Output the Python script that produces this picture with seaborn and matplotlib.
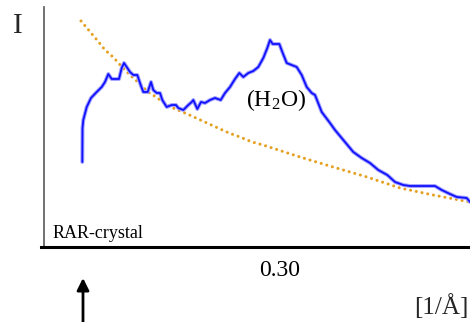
import matplotlib
matplotlib.use('Agg')
import matplotlib.pyplot as plt
import seaborn as sns

# Scattering profile (q in 1/A, intensity in arbitrary units)
blue_q = [0.1023, 0.1025, 0.1033, 0.1067, 0.1110, 0.1157, 0.1217, 0.1250, 0.1283, 0.1317,
          0.1390, 0.1417, 0.1440, 0.1467, 0.1500, 0.1533, 0.1573, 0.1607, 0.1633, 0.1677,
          0.1710, 0.1733, 0.1767, 0.1800, 0.1823, 0.1867, 0.1917, 0.1960, 0.1983, 0.2033,
          0.2083, 0.2117, 0.2133, 0.2173, 0.2210, 0.2250, 0.2300, 0.2350, 0.2407, 0.2450,
          0.2500, 0.2550, 0.2593, 0.2633, 0.2683, 0.2733, 0.2783, 0.2833, 0.2873, 0.2900,
          0.2927, 0.2993, 0.3027, 0.3067, 0.3117, 0.3167, 0.3217, 0.3267, 0.3317, 0.3350,
          0.3417, 0.3500, 0.3550, 0.3633, 0.3733, 0.3817, 0.3900, 0.3983, 0.4073, 0.4150,
          0.4233, 0.4300, 0.4550, 0.4617, 0.4700, 0.4767, 0.4867, 0.4900]
blue_i = [85, 119, 127, 140, 149, 154, 160, 165, 173, 168,
          168, 179, 184, 180, 175, 172, 172, 162, 155, 155,
          165, 157, 154, 154, 147, 140, 142, 142, 139, 137,
          142, 145, 147, 138, 145, 144, 147, 149, 147, 154,
          160, 168, 174, 170, 174, 176, 180, 189, 199, 207,
          203, 203, 194, 184, 182, 180, 172, 160, 154, 152,
          135, 124, 117, 107, 95, 89, 84, 77, 72, 65,
          62, 61, 61, 57, 53, 50, 49, 45]

# Background fit (dotted)
fit_q = [0.101, 0.117, 0.125, 0.133, 0.142, 0.150, 0.159, 0.168, 0.173, 0.183,
         0.193, 0.205, 0.216, 0.227, 0.238, 0.249, 0.260, 0.272, 0.283, 0.320,
         0.353, 0.387, 0.420, 0.453, 0.490]
fit_i = [226, 207, 197, 190, 180, 172, 164, 155, 152, 145,
         139, 134, 129, 124, 119, 114, 110, 105, 102, 90,
         80, 70, 59, 52, 45]

tick_vals = [0.30]
tick_labels = ['0.30']

sns.set_theme(style='white')
plt.rcParams['font.family'] = ['Liberation Serif', 'DejaVu Serif']
plt.rcParams['mathtext.fontset'] = 'stix'

fig = plt.figure(figsize=(4.7, 3.22), dpi=100)
ax = fig.add_axes([41 / 470, 75 / 322, 429 / 470, 240 / 322])

sns.lineplot(x=fit_q, y=fit_i, ax=ax, sort=False, estimator=None,
             color='#e6a020', linewidth=2.2, linestyle=(0, (0.01, 1.9)),
             dash_capstyle='round')
sns.lineplot(x=blue_q, y=blue_i, ax=ax, sort=False, estimator=None,
             color='#a0a0ff', linewidth=2.8)
sns.lineplot(x=blue_q, y=blue_i, ax=ax, sort=False, estimator=None,
             color='#1010ff', linewidth=1.3)

ax.set_xlim(0.061, 0.490)
ax.set_ylim(0, 240)
ax.set_xticks(tick_vals)
ax.set_xticklabels(tick_labels)
ax.set_yticks([])
ax.tick_params(axis='x', length=0, pad=9, labelsize=17, colors='black')
ax.set_xlabel('')
ax.set_ylabel('')

for s in ['top', 'right']:
    ax.spines[s].set_visible(False)
ax.spines['left'].set_position(('data', 0.064))
ax.spines['left'].set_color('#666666')
ax.spines['left'].set_linewidth(1.3)
ax.spines['bottom'].set_color('black')
ax.spines['bottom'].set_linewidth(2.2)

ax.text(12 / 429, 13 / 240, 'RAR-crystal', transform=ax.transAxes,
        fontsize=13, ha='left', va='center', color='black')
ax.text(0.296, 147, '(H$_{\\mathregular{2}}$O)', fontsize=17,
        ha='center', va='center', color='black')

fig.text(18 / 470, 1 - 26 / 322, 'I', fontsize=21, ha='center', va='center')
fig.text(441 / 470, 1 - 307 / 322, '[1/Å]', fontsize=18, ha='center', va='center')

ax.annotate('', xy=(83, 44), xycoords='figure pixels',
            xytext=(83, 0), textcoords='figure pixels',
            arrowprops=dict(arrowstyle='-|>', color='black', lw=2,
                            mutation_scale=18, shrinkA=0, shrinkB=0))

fig.savefig('out.png', dpi=100)
